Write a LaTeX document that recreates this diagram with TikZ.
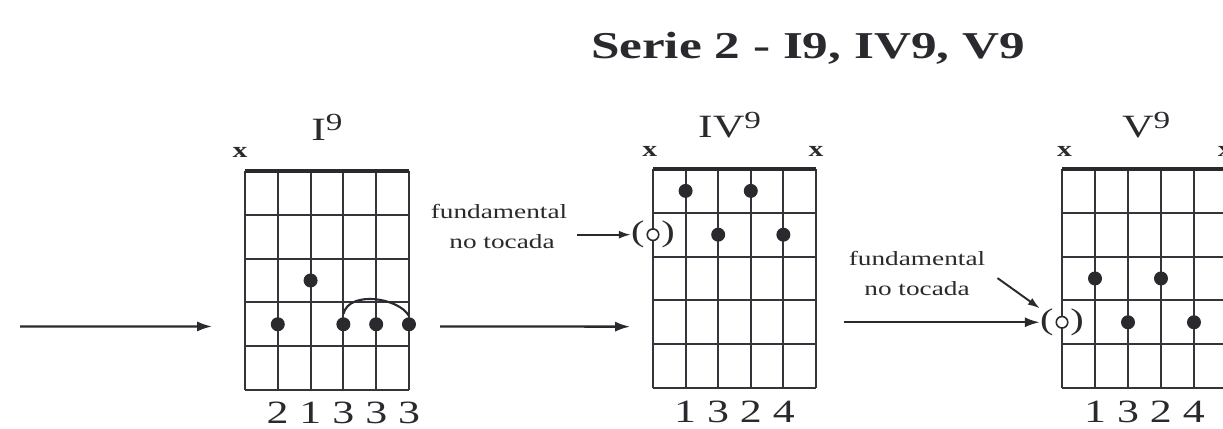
\documentclass[tikz,border=0pt]{standalone}
\usepackage{fontspec}
\setmainfont[FakeStretch=1.35]{Liberation Serif}
\usetikzlibrary{arrows.meta,positioning}
\definecolor{ScanInk}{HTML}{2A2A2E}
\definecolor{ScanGrid}{HTML}{34343A}
\newcommand{\ninth}{\raisebox{0.3em}{\fontsize{14}{14}\selectfont 9}}

\begin{document}
\begin{tikzpicture}[x=0.02cm, y=-0.02cm, every node/.style={text=ScanInk, inner sep=0pt},
    fret/.style={line width=1.15pt, ScanGrid},
    nut/.style={line width=2.2pt, ScanInk},
    fingerdot/.style={circle, fill=ScanInk, minimum size=0.28cm},
    openroot/.style={circle, draw=ScanInk, line width=0.9pt, fill=white, minimum size=0.23cm},
    paren/.style={font=\fontsize{17}{17}\selectfont},
    mutemark/.style={font=\bfseries\fontsize{12.5}{12.5}\selectfont},
    chordname/.style={font=\fontsize{18.5}{18.5}\selectfont},
    fingernum/.style={font=\fontsize{18.5}{18.5}\selectfont},
    note/.style={font=\fontsize{11.5}{11.5}\selectfont},
    barre/.style={line width=1.2pt, ScanInk},
    flow/.style={-{Latex[length=3mm, width=2mm]}, line width=1.3pt, ScanInk}]
    \useasboundingbox (0,0) rectangle (1223,429);

    \node[font=\bfseries\fontsize{21.6}{21.6}\selectfont] (title) at (808,48) {Serie 2 - I9, IV9, V9};

    % chord I
    \begin{scope}[shift={(245,171)}, x=0.656cm, y=-0.876cm]
      \foreach \s in {0,...,5} \draw[fret] (\s,0) -- (\s,5);
      \foreach \f in {1,...,5} \draw[fret] (0,\f) -- (5,\f);
      \draw[nut] (0,0) -- (5,0);
      \node[chordname] (i-name) at (2.5,-1.0) {I\ninth};
      \node[mutemark] (i-x1) at (-0.15,-0.43) {x};
      \node[fingerdot] (i-d2) at (1,3.5) {};
      \node[fingerdot] (i-d3) at (2,2.5) {};
      \node[fingerdot] (i-d4) at (3,3.5) {};
      \node[fingerdot] (i-d5) at (4,3.5) {};
      \node[fingerdot] (i-d6) at (5,3.5) {};
      \node[fingernum] (i-fingers) at (3,5.52) {2 1 3 3 3};
      \coordinate (i-in) at (-1,3.55);
      \coordinate (i-out) at (5.95,3.55);
    \end{scope}
    \draw[barre] ([yshift=0.06cm]i-d4.north) .. controls +(6,-24) and +(-10,-18) .. ([yshift=0.02cm]i-d6.north);

    % chord IV
    \begin{scope}[shift={(653,169)}, x=0.652cm, y=-0.876cm]
      \foreach \s in {0,...,5} \draw[fret] (\s,0) -- (\s,5);
      \foreach \f in {1,...,5} \draw[fret] (0,\f) -- (5,\f);
      \draw[nut] (0,0) -- (5,0);
      \node[chordname] (iv-name) at (2.35,-1.0) {IV\ninth};
      \node[mutemark] (iv-x1) at (-0.1,-0.4) {x};
      \node[mutemark] (iv-x6) at (5,-0.4) {x};
      \node[fingerdot] (iv-d2) at (1,0.5) {};
      \node[fingerdot] (iv-d3) at (2,1.5) {};
      \node[fingerdot] (iv-d4) at (3,0.5) {};
      \node[fingerdot] (iv-d5) at (4,1.5) {};
      \node[openroot] (iv-open) at (0,1.5) {};
      \node[fingernum] (iv-fingers) at (2.5,5.55) {1 3 2 4};
      \coordinate (iv-in) at (-0.7,3.6);
      \coordinate (iv-out) at (5.85,3.5);
    \end{scope}
    \node[paren, left=0.03cm of iv-open] (iv-lparen) {(};
    \node[paren, right=0.03cm of iv-open] (iv-rparen) {)};

    % chord V
    \begin{scope}[shift={(1062,169)}, x=0.66cm, y=-0.876cm]
      \foreach \s in {0,...,5} \draw[fret] (\s,0) -- (\s,5);
      \foreach \f in {1,...,5} \draw[fret] (0,\f) -- (5,\f);
      \draw[nut] (0,0) -- (5,0);
      \node[chordname] (v-name) at (2.55,-1.0) {V\ninth};
      \node[mutemark] (v-x1) at (0.08,-0.4) {x};
      \node[mutemark] (v-x6) at (4.95,-0.4) {x};
      \node[fingerdot] (v-d2) at (1,2.5) {};
      \node[fingerdot] (v-d3) at (2,3.5) {};
      \node[fingerdot] (v-d4) at (3,2.5) {};
      \node[fingerdot] (v-d5) at (4,3.5) {};
      \node[openroot] (v-open) at (0,3.5) {};
      \node[fingernum] (v-fingers) at (2.5,5.55) {1 3 2 4};
    \end{scope}
    \node[paren, left=0.03cm of v-open] (v-lparen) {(};
    \node[paren, right=0.03cm of v-open] (v-rparen) {)};

    % notes
    \node[note, anchor=base] (ivnote1) at (499,218) {fundamental};
    \node[note, anchor=base] (ivnote2) at (502,248) {no tocada};
    \node[note, anchor=base] (vnote1) at (917,265) {fundamental};
    \node[note, anchor=base] (vnote2) at (917,295) {no tocada};

    \coordinate (lead-in) at (20,326.5);
    \draw[flow] (lead-in) -- (i-in);
    \draw[flow] (i-out) -- (iv-in);
    \draw[flow] (iv-out) -- (v-lparen.west);
    \draw[flow, -{Latex[length=2.4mm, width=1.6mm]}, line width=1.1pt, shorten <=0.45cm] (ivnote2.east |- iv-lparen) -- (iv-lparen.west);
    \draw[flow, -{Latex[length=2.4mm, width=1.6mm]}, line width=1.1pt] ([xshift=0.55cm, yshift=0.2cm]vnote2.east) -- (v-lparen.north west);
  \end{tikzpicture}
\end{document}
